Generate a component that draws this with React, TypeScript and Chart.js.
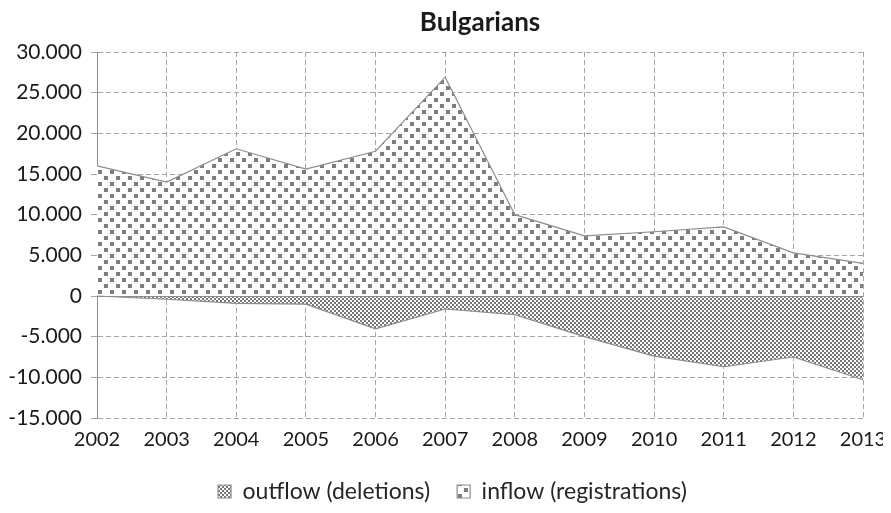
import React, { useEffect, useRef } from "react";
import { Chart, registerables } from "chart.js";

Chart.register(...registerables);

const years = ["2002", "2003", "2004", "2005", "2006", "2007", "2008", "2009", "2010", "2011", "2012", "2013"];
const inflow = [16000, 14000, 18100, 15600, 17800, 26900, 10000, 7400, 7900, 8500, 5300, 4000];
const outflow = [0, -400, -900, -1000, -4050, -1600, -2300, -5000, -7400, -8700, -7500, -10300];
const yMin = -15000;
const yMax = 30000;
const yStep = 5000;
const titleText = "Bulgarians";

const FONT = "Lato, 'Noto Sans', sans-serif";

function makeDots(): CanvasPattern | string {
  const c = document.createElement("canvas");
  c.width = 12;
  c.height = 12;
  const x = c.getContext("2d");
  if (!x) return "#bbb";
  x.fillStyle = "#ffffff";
  x.fillRect(0, 0, 12, 12);
  x.fillStyle = "#7d7d7d";
  x.fillRect(0, 0, 4, 4);
  x.fillRect(6, 6, 4, 4);
  return x.createPattern(c, "repeat") || "#bbb";
}

function makeChecker(): CanvasPattern | string {
  const c = document.createElement("canvas");
  c.width = 4;
  c.height = 4;
  const x = c.getContext("2d");
  if (!x) return "#999";
  x.fillStyle = "#ffffff";
  x.fillRect(0, 0, 4, 4);
  x.fillStyle = "#777777";
  x.fillRect(0, 0, 2, 2);
  x.fillRect(2, 2, 2, 2);
  return x.createPattern(c, "repeat") || "#999";
}

const zeroLine = {
  id: "zeroLine",
  afterDatasetsDraw(chart: any) {
    const y = chart.scales.y.getPixelForValue(0);
    const { left, right } = chart.chartArea;
    const ctx = chart.ctx;
    ctx.save();
    ctx.strokeStyle = "#8c8c8c";
    ctx.lineWidth = 1;
    ctx.beginPath();
    ctx.moveTo(left, Math.round(y) + 0.5);
    ctx.lineTo(right, Math.round(y) + 0.5);
    ctx.stroke();
    ctx.restore();
  },
};

const plotTitle = {
  id: "plotTitle",
  afterDraw(chart: any) {
    const { left, right } = chart.chartArea;
    const ctx = chart.ctx;
    ctx.save();
    ctx.fillStyle = "#1a1a1a";
    ctx.font = `bold 26px ${FONT}`;
    ctx.textAlign = "center";
    ctx.textBaseline = "middle";
    ctx.fillText(titleText, (left + right) / 2, 15);
    ctx.restore();
  },
};

const legendShift = {
  id: "legendShift",
  afterLayout(chart: any) {
    const lg = chart.legend;
    if (lg) {
      lg.left += 17;
      lg.right += 17;
    }
  },
};

export default function App() {
  const ref = useRef<HTMLCanvasElement>(null);
  useEffect(() => {
    if (!ref.current) return;
    const dots = makeDots();
    const checker = makeChecker();
    const chart = new Chart(ref.current, {
      type: "line",
      data: {
        labels: years,
        datasets: [
          {
            label: "outflow (deletions)",
            data: outflow,
            backgroundColor: checker as any,
            borderColor: "#8c8c8c",
            borderWidth: 1.2,
            pointRadius: 0,
            fill: "origin",
            tension: 0,
          },
          {
            label: "inflow (registrations)",
            data: inflow,
            backgroundColor: dots as any,
            borderColor: "#8c8c8c",
            borderWidth: 1.2,
            pointRadius: 0,
            fill: "origin",
            tension: 0,
          },
        ],
      },
      options: {
        animation: false,
        responsive: true,
        maintainAspectRatio: false,
        layout: { padding: { left: 0, right: 36, top: 44, bottom: 0 } },
        plugins: {
          title: { display: false },
          legend: {
            position: "bottom",
            labels: {
              color: "#262626",
              font: { family: FONT, size: 23 },
              boxWidth: 13,
              boxHeight: 13,
              padding: 27,
            },
          },
          tooltip: { enabled: false },
        },
        scales: {
          x: {
            offset: false,
            afterFit: (s: any) => {
              s.height = 35;
              s.paddingLeft = 0;
              s.paddingRight = 0;
            },
            grid: {
              display: true,
              color: "#a6a6a6",
              drawTicks: false,
              lineWidth: 1,
            },
            border: { display: false, dash: [5, 3] },
            ticks: {
              color: "#1a1a1a",
              font: { family: FONT, size: 20 },
              padding: 10,
              maxRotation: 0,
              autoSkip: false,
            },
          },
          y: {
            min: yMin,
            max: yMax,
            afterFit: (s: any) => {
              s.width = 89;
              s.paddingTop = 0;
              s.paddingBottom = 0;
            },
            grid: {
              color: "#a6a6a6",
              drawTicks: true,
              tickLength: 6,
              lineWidth: 1,
            },
            border: { display: true, color: "#8c8c8c", dash: [5, 3] },
            ticks: {
              stepSize: yStep,
              color: "#1a1a1a",
              font: { family: FONT, size: 21 },
              padding: 9,
              callback: (v: any) => {
                const n = Number(v);
                const s = Math.abs(n).toString().replace(/\B(?=(\d{3})+(?!\d))/g, ".");
                return (n < 0 ? "-" : "") + s;
              },
            },
          },
        },
      },
      plugins: [zeroLine, plotTitle, legendShift],
    });
    return () => chart.destroy();
  }, []);
  return (
    <>
      <style>{"html, body { overflow: hidden; }"}</style>
      <div style={{ width: 891, height: 505, marginRight: -16, marginBottom: -8, position: "relative" }}>
        <canvas ref={ref} />
      </div>
    </>
  );
}
